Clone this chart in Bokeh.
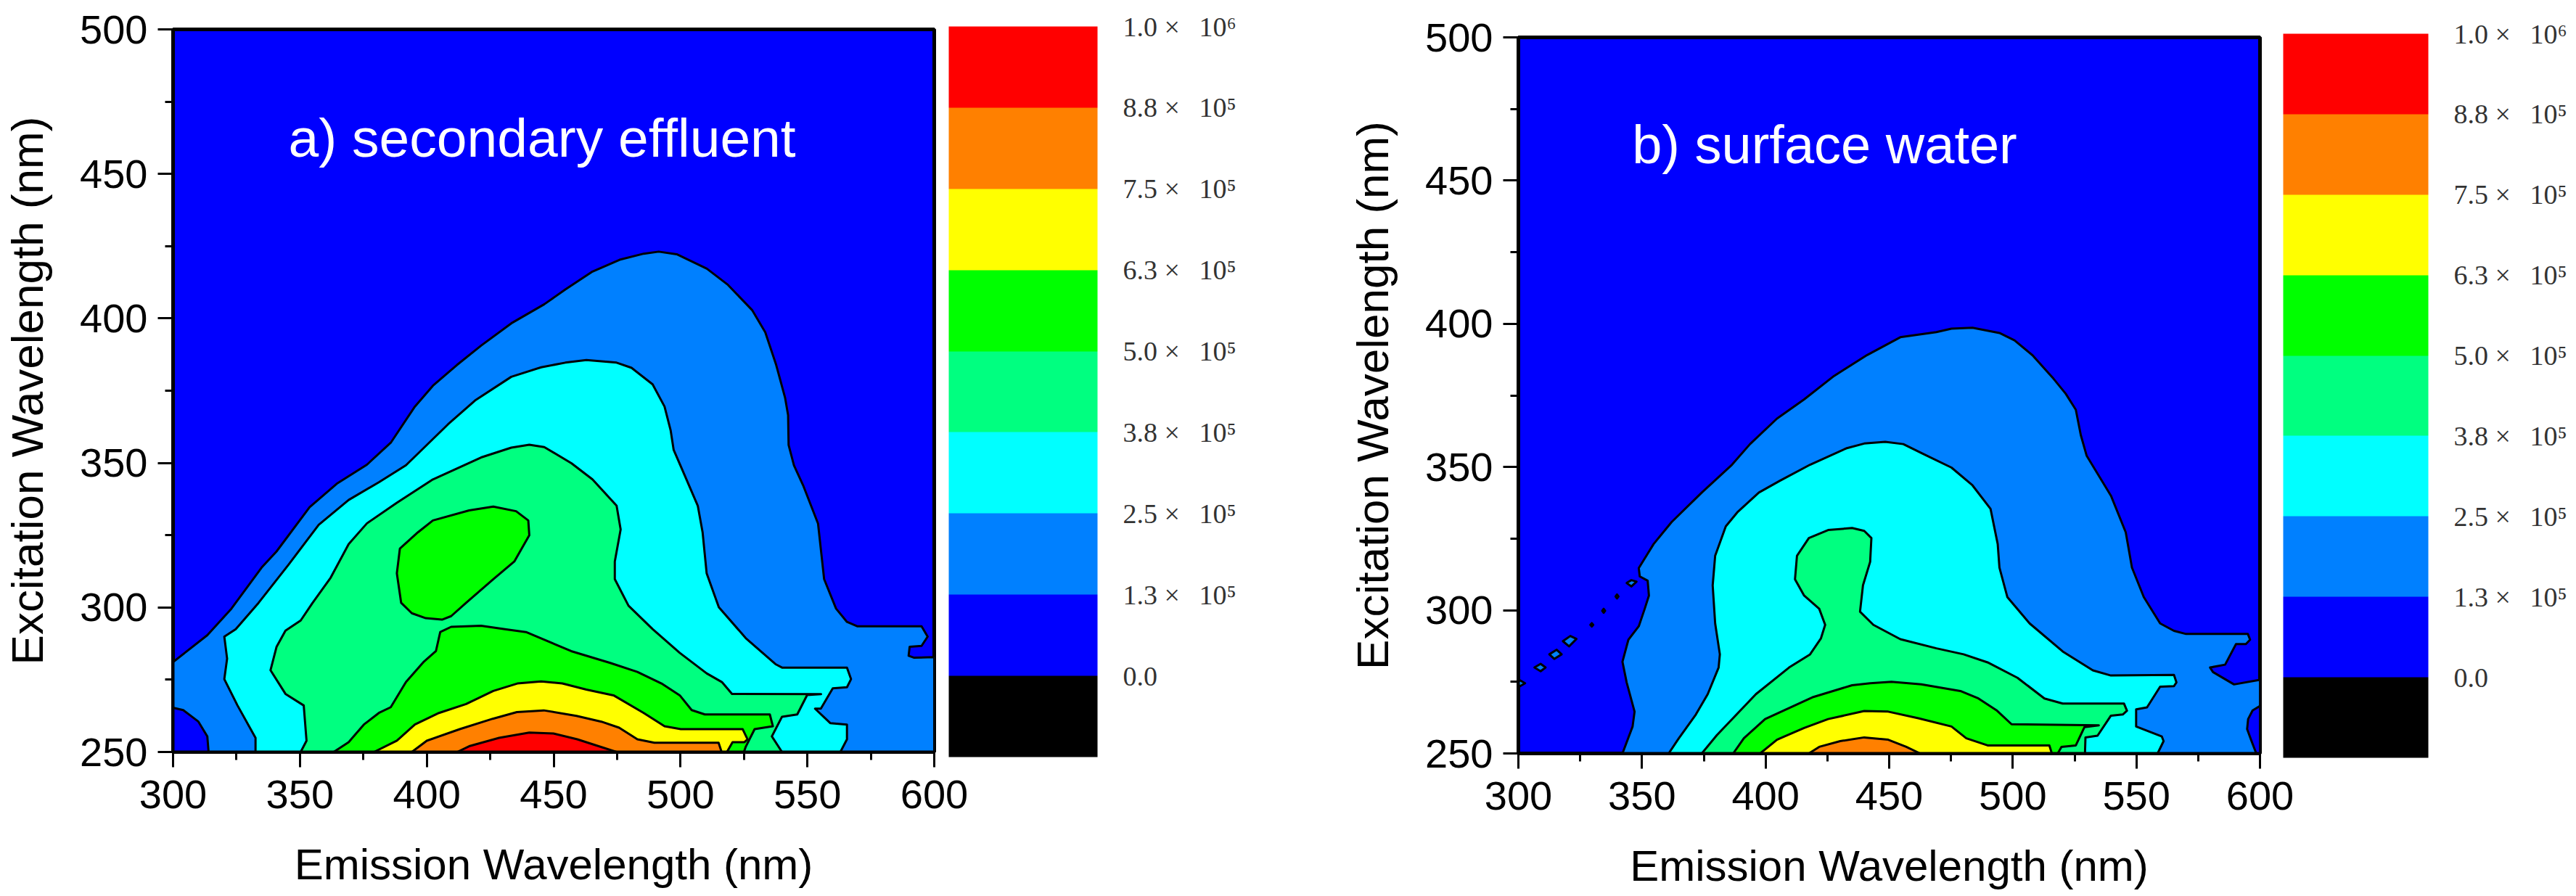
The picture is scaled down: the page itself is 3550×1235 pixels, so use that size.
from bokeh.embed import file_html
from bokeh.layouts import row
from bokeh.models import ColorBar, FixedTicker, Label, LinearColorMapper, Range1d
from bokeh.plotting import figure
from bokeh.resources import INLINE

# Colour scale
PALETTE = ["#000000", "#0000FF", "#0080FF", "#00FFFF", "#00FF80", "#00FF00", "#FFFF00", "#FF8000", "#FF0000"]
LEVELS = [0.0, 1.25e5, 2.5e5, 3.75e5, 5.0e5, 6.25e5, 7.5e5, 8.75e5, 1.0e6]
LEVEL_LABELS = ["0.0", "1.3", "2.5", "3.8", "5.0", "6.3", "7.5", "8.8", "1.0"]
LEVEL_EXPONENTS = ["", "⁵", "⁵", "⁵", "⁵", "⁵", "⁵", "⁵", "⁶"]

X_TICKS = [300, 350, 400, 450, 500, 550, 600]
X_MINOR = [325, 375, 425, 475, 525, 575]
Y_TICKS = [250, 300, 350, 400, 450, 500]
Y_MINOR = [275, 325, 375, 425, 475]

# Panel a) contour outlines, (emission nm, excitation nm)
A_AZURE = [(300, 281.1), (313.5, 290.4), (323, 299.6), (334.9, 313.8), (340.8, 319.4), (353.8, 334.7), (364.5, 342.8),
           (376.4, 349.4), (385.8, 357), (395.3, 369.5), (402.4, 376.7), (411.9, 383.9), (421.4, 390.6), (433.3, 398.3),
           (446.3, 404.9), (454.6, 410), (465.3, 416.2), (476, 420.3), (485.5, 422.4), (491.4, 423.1), (498.5, 422.2),
           (510.4, 417.2), (518.7, 411.6), (528.2, 402.9), (533.4, 395.2), (537.7, 383.9), (541.2, 372.6), (542.4, 366.5),
           (542.6, 356.2), (544.7, 349.2), (548.3, 342.3), (554.2, 329), (556.6, 309.8), (561.3, 299.6), (565.6, 295),
           (569.6, 293.5), (595, 293.5), (597.4, 289.9), (595, 286.7), (590.3, 286.4), (589.9, 283.3), (592.1, 282.6),
           (600, 282.8), (600, 250), (300, 250)]
A_CORNER = [(300, 265.3), (304, 264.5), (310, 260.5), (313.5, 255.4), (314, 250), (300, 250)]
A_CYAN = [(332.5, 250), (332.5, 254.9), (325.4, 266.1), (320.2, 275.2), (321.3, 282.3), (320.2, 289.9), (324.7, 292.5),
          (333.7, 301.6), (345.5, 314.8), (357.4, 328.6), (369.2, 337.2), (381.1, 343.3), (391.8, 349.2), (408.4, 363.4),
          (419, 371.6), (433.3, 379.8), (445.1, 383.1), (454.6, 384.7), (462.9, 385.6), (474.8, 384.7), (480.7, 382.9),
          (489, 377.2), (493.7, 369.5), (496.1, 361.3), (497.3, 354.5), (500.8, 347.4), (506.8, 335.2), (508.7, 326),
          (510.3, 311.8), (515.1, 300.1), (525.7, 289.4), (537.6, 280.3), (540, 279.2), (565.6, 279.2), (567.2, 275.2),
          (565.6, 272.4), (560, 272), (555.3, 265), (553, 265), (559, 260), (565.6, 259.5), (565.6, 254.4), (563, 250)]
A_SPRING = [(350.3, 250), (352.6, 253.9), (351.5, 266.1), (344.3, 270.1), (338.4, 278.3), (340.8, 286.4), (344.3, 292),
            (350.3, 295.5), (355, 301.6), (362.1, 310.3), (369.2, 321.9), (376.4, 329.1), (388.2, 336.2), (402.4, 344.3),
            (421.4, 351.9), (433.3, 355.3), (440.4, 356.3), (446.3, 355.5), (457, 349.9), (465.3, 344.3), (474.8, 335.2),
            (476.4, 327), (474.1, 315.9), (474.1, 309.8), (479.5, 300.6), (489, 292.5), (499.7, 284.3), (510.3, 277.2),
            (516.3, 274.2), (520.3, 270.1), (555.4, 270), (549.9, 269.7), (546, 263), (540, 262.2), (536, 255.4), (540, 250)]
A_GREEN_ISLAND = [(399.6, 296.3), (406, 295.8), (409.6, 297), (415.5, 301.6), (426.2, 309.8), (434.5, 315.9), (440.4, 325),
                  (440, 330.1), (435.2, 333.3), (426.2, 334.9), (416.7, 333.6), (402.4, 330.1), (396.5, 326), (389.4, 320.4),
                  (388.2, 311.8), (389.9, 301.6), (394.1, 298)]
A_GREEN = [(363.3, 250), (369.2, 253.4), (375.2, 259.5), (381.1, 263.5), (385.8, 265.5), (391.8, 274.2), (398.9, 281.3),
           (403.6, 284.9), (405.3, 291.5), (409.6, 293.3), (421.4, 293.7), (430.8, 292.5), (439.1, 291.5), (456.9, 284.9),
           (472.3, 280.8), (483, 277.7), (492.5, 273.7), (499.7, 269.6), (504.4, 264.5), (509.6, 263), (535.2, 263),
           (536.4, 258.9), (529.2, 257.9), (525.7, 251.8), (525, 250)]
A_YELLOW = [(379.2, 250), (388.2, 253.9), (395.3, 259.5), (404.8, 263.5), (415.5, 266.6), (426.2, 271.1), (435.7, 273.7),
            (445.1, 274.4), (453.4, 273.7), (462.9, 271.6), (473.6, 269.6), (485.5, 263.5), (493.7, 258.9), (500.1, 257.9),
            (524.5, 257.9), (526.4, 254.4), (525.2, 253.4), (520.5, 253.4), (518.3, 250)]
A_ORANGE = [(394.1, 250), (400, 253.9), (413, 257.9), (426, 261.5), (435.5, 263.8), (446.1, 264.4), (459, 262.5),
            (468.8, 260.5), (475.8, 258.4), (483, 254.4), (489.7, 253.2), (515, 253.2), (516.2, 250)]
A_RED = [(412, 250), (416.7, 252), (428.5, 254.9), (440.4, 256.7), (449.9, 256.4), (459.3, 254.4), (474.8, 250)]

# Panel b) contour outlines
B_AZURE = [(342.1, 250), (346.2, 259.4), (347, 264.6), (343.8, 274.8), (342.1, 282), (344.5, 289.7), (348.7, 294.4),
           (351.1, 300.5), (352.8, 305.1), (352.3, 310.3), (349.1, 311.8), (348.7, 314.7), (354.7, 323.1), (362, 330.8),
           (374.2, 341.1), (386.4, 350.8), (393.7, 358), (404.6, 366.9), (415.6, 373.6), (427.7, 381.8), (441.1, 389.1),
           (454.5, 395.3), (469.1, 397.1), (475.2, 398.3), (483.7, 398.6), (494.6, 396.8), (500.7, 394.2), (508, 389),
           (516.5, 380.8), (521.4, 375.6), (525.5, 370), (527.5, 361.2), (529.9, 353.9), (539.7, 340), (545.7, 327.2),
           (548.2, 314.9), (553, 304.6), (559.6, 295.4), (565.2, 292.8), (570.1, 291.7), (595.1, 291.7), (596, 289.7),
           (594.3, 288.2), (590.3, 288.2), (585.9, 281), (579.8, 280), (581, 278.4), (589.5, 274.1), (600, 275.7),
           (600, 250)]
B_CORNER = [(600, 266.6), (597, 265), (595.2, 262), (594.8, 258.5), (596.5, 254.5), (598.5, 250), (600, 250)]
B_SPECKS = [[(298.7, 274.5), (300.7, 275.5), (302.7, 274.5), (300.7, 273.5)],
            [(306.5, 280), (309, 281.3), (311, 280), (309, 278.7)],
            [(312.5, 284.6), (315.5, 286.2), (317.5, 284.6), (314.5, 283)],
            [(318, 289.2), (321, 291), (323.5, 290), (320.5, 287.4)],
            [(329.1, 294.9), (329.7, 295.5), (330.3, 294.9), (329.7, 294.3)],
            [(333.9, 299.8), (334.5, 300.5), (335.1, 299.8), (334.5, 299.1)],
            [(339.3, 304.8), (339.9, 305.5), (340.5, 304.8), (339.9, 304.1)],
            [(343.8, 309.5), (345.7, 310.5), (347.8, 310), (345.7, 308.3)]]
B_CYAN = [(360.8, 250), (364.5, 254.8), (371.8, 263.6), (376.6, 270.7), (381, 280), (381.5, 284.6), (379.6, 295.4),
          (378.6, 308.7), (379.6, 319), (383.9, 329.3), (388.8, 334.4), (397.3, 341.1), (405.8, 345.2), (418, 350.8),
          (432.6, 356.5), (439.9, 358.2), (448.4, 358.8), (455.7, 358), (464.2, 354.4), (475.2, 349.8), (483.7, 343.6),
          (491, 335.4), (493.9, 323.1), (494.6, 314.9), (497.8, 304.6), (506.8, 295.4), (520.2, 285.6), (532.4, 279),
          (539.7, 277.2), (565.2, 277.4), (566.2, 274.8), (565.2, 273.5), (559.6, 273.3), (554.3, 266.1), (549.9, 265.4),
          (549.9, 259.4), (560.3, 255.9), (561, 254.3), (558.6, 250)]
B_SPRING = [(374.2, 250), (380.3, 256.4), (396.1, 270.7), (409.5, 280), (418, 284.6), (422.4, 290.2), (424.1, 294.9),
            (421.7, 300.5), (415.6, 305.1), (411.9, 310.8), (412.7, 319), (417.5, 325.2), (425.3, 328), (435, 328.7),
            (439.9, 327.7), (442.8, 325.2), (442.3, 316.9), (439.4, 308.7), (438.2, 299.5), (443.6, 294.9), (454.5, 289.9),
            (469.1, 286.7), (480.1, 284.6), (489.8, 281.8), (501.9, 276.4), (512.8, 269.2), (520.2, 267.4), (545, 267.4),
            (546.2, 264.9), (544.5, 263.6), (539.7, 263.2), (534.3, 256.2), (529.4, 255.6), (529.2, 250)]
B_GREEN = [(386.9, 250), (391.2, 255.3), (399.8, 262), (419.3, 269.7), (435, 273.8), (442.3, 274.5), (450.9, 275),
           (463, 274.1), (478.8, 271.8), (486.1, 269.2), (493.4, 265.1), (499.5, 260.2), (534.8, 259.8), (529, 259.2),
           (525.5, 252.8), (519.7, 252.3), (518.2, 250)]
B_YELLOW = [(397.8, 250), (404.6, 254.8), (415.6, 258.9), (425.3, 262), (439.9, 264.8), (449.6, 264.6), (461.8, 262.3),
            (475.2, 259.4), (481.2, 255.3), (489.8, 252.8), (514.8, 252.8), (515.8, 250)]
B_ORANGE = [(417.5, 250), (421.7, 252.3), (430.2, 254.3), (439.9, 255.6), (449.6, 254.8), (456.9, 252.3), (462.5, 250)]

A_LAYERS = [(A_AZURE, "#0080FF"), (A_CORNER, "#0000FF"), (A_CYAN, "#00FFFF"), (A_SPRING, "#00FF80"),
            (A_GREEN_ISLAND, "#00FF00"), (A_GREEN, "#00FF00"), (A_YELLOW, "#FFFF00"), (A_ORANGE, "#FF8000"), (A_RED, "#FF0000")]
B_LAYERS = [(B_AZURE, "#0080FF"), (B_CORNER, "#0000FF")] + [(s, "#0080FF") for s in B_SPECKS] + [
            (B_CYAN, "#00FFFF"), (B_SPRING, "#00FF80"), (B_GREEN, "#00FF00"), (B_YELLOW, "#FFFF00"), (B_ORANGE, "#FF8000")]

SANS = "Liberation Sans"
SERIF = "Liberation Serif"


def panel(layers, title, title_xy, title_px, fw, fh, left, right, top, bottom, bar_loc, bar_w, bar_h, margin):
    p = figure(frame_width=fw, frame_height=fh, output_backend="svg", toolbar_location=None,
               x_range=Range1d(300, 600), y_range=Range1d(250, 500),
               min_border_left=left, min_border_right=right, min_border_top=top, min_border_bottom=bottom,
               x_axis_label="Emission Wavelength (nm)", y_axis_label="Excitation Wavelength (nm)",
               background_fill_color="#0000FF", border_fill_color="#FFFFFF", margin=margin)
    p.grid.visible = False
    p.outline_line_color = "#000000"
    p.outline_line_width = 5

    p.xaxis.ticker = FixedTicker(ticks=X_TICKS, minor_ticks=X_MINOR)
    p.yaxis.ticker = FixedTicker(ticks=Y_TICKS, minor_ticks=Y_MINOR)
    for ax in (p.xaxis[0], p.yaxis[0]):
        ax.axis_line_width = 4
        ax.major_tick_line_width = 3
        ax.minor_tick_line_width = 3
        ax.major_tick_out = 21
        ax.major_tick_in = 0
        ax.minor_tick_out = 11
        ax.minor_tick_in = 0
        ax.major_label_text_font = SANS
        ax.major_label_text_font_size = "56px"
        ax.major_label_text_color = "#000000"
        ax.axis_label_text_font = SANS
        ax.axis_label_text_font_style = "normal"
        ax.axis_label_text_color = "#000000"
    p.xaxis.axis_label_text_font_size = "60px"
    p.yaxis.axis_label_text_font_size = "62px"
    p.xaxis.major_label_standoff = 18
    p.yaxis.major_label_standoff = 14
    p.xaxis.axis_label_standoff = 41
    p.yaxis.axis_label_standoff = 35

    for poly, colour in layers:
        p.patch([q[0] for q in poly], [q[1] for q in poly], fill_color=colour, line_color="#000000",
                line_width=3, line_join="round")

    p.add_layout(Label(x=title_xy[0], y=title_xy[1], text=title, text_color="#FFFFFF", text_font=SANS,
                       text_font_size=title_px, text_baseline="alphabetic"))

    mapper = LinearColorMapper(palette=PALETTE, low=-1.25e5, high=1.0e6)
    labels = {}
    for lev, txt, exp in zip(LEVELS, LEVEL_LABELS, LEVEL_EXPONENTS):
        labels[lev] = txt if not exp else f"{txt}\u00a0×\u00a0\u2009\u00a010{exp}"
    bar = ColorBar(color_mapper=mapper, ticker=FixedTicker(ticks=LEVELS), major_label_overrides=labels,
                   location=bar_loc, width=bar_w, height=bar_h, padding=0, margin=0, label_standoff=35,
                   major_tick_line_color=None, bar_line_color=None, border_line_color=None,
                   background_fill_alpha=0, major_label_text_font=SERIF, major_label_text_font_size="38px",
                   major_label_text_color="#333333")
    p.add_layout(bar)
    return p


pa = panel(A_LAYERS, "a) secondary effluent", (345.5, 462.4), "75px", 1049, 996, 226, 567, 40, 192, (1069, -7), 205, 1007, (0, 0, 0, 0))
pb = panel(B_LAYERS, "b) surface water", (346, 462.5), "74px", 1022, 987, 226, 428, 40, 192, (1054, -6), 200, 998, (11, 0, 0, 0))

open("out.html", "w").write(file_html(row(pa, pb, spacing=0), INLINE))
